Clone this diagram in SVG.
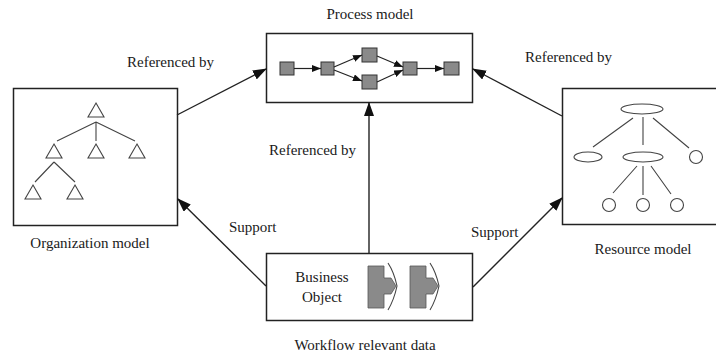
<svg xmlns="http://www.w3.org/2000/svg" width="716" height="358" viewBox="0 0 716 358" font-family="'Liberation Serif', 'Times New Roman', serif">
<style>
text{font-family:"Liberation Serif","Times New Roman",serif;font-size:15px;fill:#1a1a1a}
.box{fill:#fff;stroke:#222;stroke-width:1.5}
.conn{stroke:#222;stroke-width:1.4;fill:none}
.small{stroke:#222;stroke-width:1.2;fill:none}
.sq{fill:#8a8a8a;stroke:#333;stroke-width:1}
.ico{fill:none;stroke:#444;stroke-width:1.1}
.piece{fill:#8a8a8a;stroke:#555;stroke-width:0.8}
</style>
<defs>
<marker id="big" markerUnits="userSpaceOnUse" markerWidth="14" markerHeight="10" refX="13" refY="5" orient="auto">
<path d="M0,0 L14,5 L0,10 Z" fill="#111"/>
</marker>
<marker id="sm" markerUnits="userSpaceOnUse" markerWidth="9" markerHeight="7" refX="9" refY="3.5" orient="auto">
<path d="M0,0 L9,3.5 L0,7 Z" fill="#111"/>
</marker>
</defs>
<rect width="716" height="358" fill="#fff"/>

<g id="process-model">
<rect class="box" x="266.5" y="33.5" width="206" height="69"/>
<text x="370" y="19" text-anchor="middle">Process model</text>
<rect class="sq" x="280" y="62" width="14" height="13"/>
<rect class="sq" x="321" y="62" width="13" height="13"/>
<rect class="sq" x="362" y="48" width="15" height="14"/>
<rect class="sq" x="362" y="75" width="15" height="14"/>
<rect class="sq" x="403" y="62" width="14" height="13"/>
<rect class="sq" x="444" y="62" width="15" height="13"/>
<line class="small" x1="294" y1="68.5" x2="321" y2="68.5" marker-end="url(#sm)"/>
<line class="small" x1="334" y1="67" x2="362" y2="55" marker-end="url(#sm)"/>
<line class="small" x1="334" y1="70" x2="362" y2="81" marker-end="url(#sm)"/>
<line class="small" x1="377" y1="56" x2="403" y2="67" marker-end="url(#sm)"/>
<line class="small" x1="377" y1="82" x2="403" y2="70" marker-end="url(#sm)"/>
<line class="small" x1="417" y1="68.5" x2="444" y2="68.5" marker-end="url(#sm)"/>
</g>

<g id="organization-model">
<rect class="box" x="13.5" y="88.5" width="164" height="137"/>
<text x="90" y="248" text-anchor="middle">Organization model</text>
<path class="ico" d="M96,103 L104,117 L88,117 Z"/>
<path class="ico" d="M54,144 L62,158 L46,158 Z"/>
<path class="ico" d="M96,144 L104,158 L88,158 Z"/>
<path class="ico" d="M137,144 L145,158 L129,158 Z"/>
<path class="ico" d="M33,185 L41,199 L25,199 Z"/>
<path class="ico" d="M75,185 L83,199 L67,199 Z"/>
<path class="ico" d="M96,122 L57,141 M96,122 L96,141 M96,122 L135,141"/>
<path class="ico" d="M54,162 L35,182 M54,162 L75,182"/>
</g>

<g id="resource-model">
<rect class="box" x="562.5" y="88.5" width="160" height="136"/>
<text x="643" y="254" text-anchor="middle">Resource model</text>
<ellipse class="ico" cx="642" cy="109" rx="21" ry="5"/>
<ellipse class="ico" cx="588" cy="157" rx="14" ry="5"/>
<ellipse class="ico" cx="643" cy="157" rx="20" ry="5"/>
<circle class="ico" cx="696" cy="157" r="6.5"/>
<circle class="ico" cx="609" cy="205" r="6.5"/>
<circle class="ico" cx="643" cy="205" r="6.5"/>
<circle class="ico" cx="677" cy="205" r="6.5"/>
<path class="ico" d="M633,118 L593,147 M643,117 L643,145 M653,118 L689,148"/>
<path class="ico" d="M637,166 L613,193 M643,166 L643,195 M651,166 L671,194"/>
</g>

<g id="workflow-relevant-data">
<rect class="box" x="266.5" y="253.5" width="206" height="67"/>
<text x="322" y="282" text-anchor="middle">Business</text>
<text x="322" y="302" text-anchor="middle">Object</text>
<path class="piece" d="M368,266 H384 V278 H391 L396,286 L391,294 H384 V308 H368 Z"/>
<path class="ico" d="M388,263 Q394,272 397,286 Q394,300 388,310"/>
<path class="piece" d="M410,266 H426 V278 H433 L438,286 L433,294 H426 V308 H410 Z"/>
<path class="ico" d="M430,263 Q436,272 439,286 Q436,300 430,310"/>
<text x="365" y="350" text-anchor="middle">Workflow relevant data</text>
</g>

<g id="connectors">
<line class="conn" x1="177" y1="115" x2="266" y2="69" marker-end="url(#big)"/>
<text x="127" y="67">Referenced by</text>
<line class="conn" x1="562" y1="116" x2="473" y2="69" marker-end="url(#big)"/>
<text x="525" y="62">Referenced by</text>
<line class="conn" x1="369" y1="253" x2="369" y2="103" marker-end="url(#big)"/>
<text x="269" y="155">Referenced by</text>
<line class="conn" x1="266" y1="286" x2="178" y2="199" marker-end="url(#big)"/>
<text x="229" y="232">Support</text>
<line class="conn" x1="473" y1="287" x2="562" y2="198" marker-end="url(#big)"/>
<text x="471" y="237">Support</text>
</g>
</svg>
